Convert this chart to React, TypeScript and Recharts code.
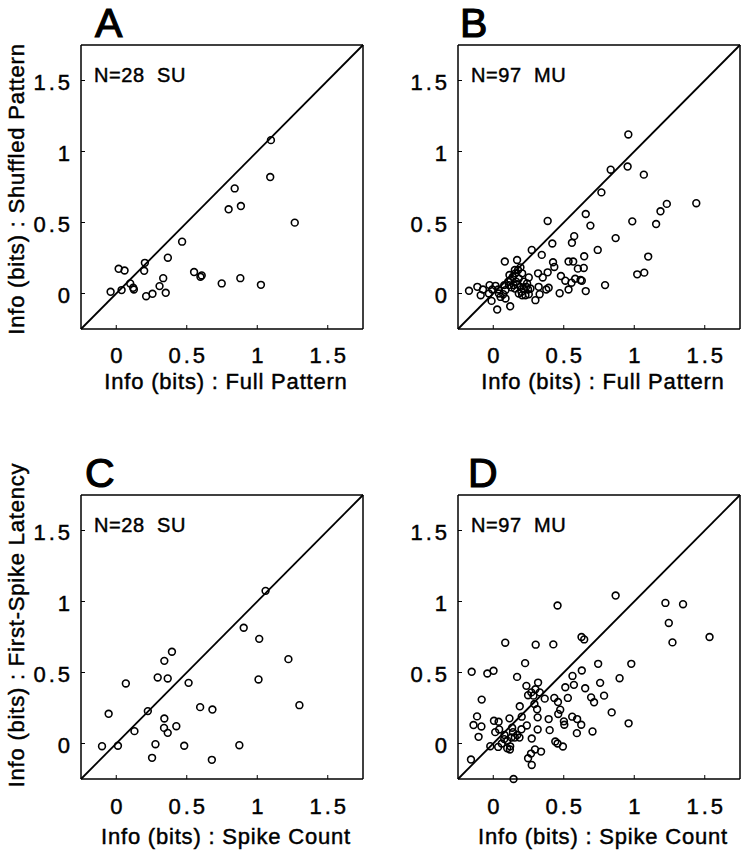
import React from 'react';
import { ScatterChart, Scatter, XAxis, YAxis, ReferenceLine, Label } from 'recharts';

const FONT = '"Liberation Sans", Arial, Helvetica, sans-serif';
const LIMITS: [number, number] = [-0.25, 1.75];
const TICKS = [0, 0.5, 1, 1.5];

// A: single units, full pattern vs shuffled pattern
const suFull = [1.097, 1.092, 0.84, 0.797, 0.884, 1.266, 0.467, 0.366, 0.203, 0.198, 0.017, 0.059, 0.099, 0.12,
  0.125, -0.04, 0.038, 0.212, 0.257, 0.307, 0.333, 0.351, 0.552, 0.597, 0.606, 0.748, 0.88, 1.026];
const suShuffled = [1.08, 0.82, 0.74, 0.593, 0.616, 0.499, 0.365, 0.252, 0.216, 0.16, 0.174, 0.162, 0.071, 0.04,
  0.028, 0.012, 0.024, -0.019, -0.002, 0.052, 0.108, 0.005, 0.151, 0.118, 0.127, 0.071, 0.108, 0.061];

// B: multi units, full pattern vs shuffled pattern
const muFull = [0.958, 0.953, 0.833, 1.068, 0.767, 1.44, 1.231, 1.186, 1.155, 0.986, 0.656, 0.689, 0.386, 0.868,
  0.574, 0.558, 0.419, 0.741, 0.273, 0.344, 0.645, 1.099, 0.082, 0.169, 0.424, 0.433, 0.534, 0.567, 0.6, 0.642,
  0.318, 0.386, 0.351, 0.252, 1.021, 1.071, 0.48, 0.511, 0.581, 0.619, 0.628, 0.555, 0.793, 0.393, 0.376, 0.322,
  0.534, 0.471, 0.656, 0.299, 0.329,
  -0.172, -0.113, -0.089, -0.073, -0.026, -0.031, -0.007, 0.016, 0.035, -0.012, 0.028, 0.052, 0.071, 0.087, 0.12,
  0.04, 0.087, 0.078, 0.106,
  0.122, 0.139, 0.158, 0.176, 0.193, 0.205, 0.181, 0.162, 0.146, 0.193, 0.216, 0.233, 0.247, 0.181, 0.205, 0.228,
  0.252, 0.153, 0.129, 0.111, 0.169, 0.216, 0.24, 0.264, 0.153, 0.115, 0.2];
const muShuffled = [1.12, 0.894, 0.872, 0.837, 0.712, 0.636, 0.631, 0.579, 0.489, 0.508, 0.56, 0.478, 0.511, 0.39,
  0.404, 0.357, 0.352, 0.307, 0.307, 0.272, 0.262, 0.26, 0.225, 0.236, 0.22, 0.187, 0.225, 0.225, 0.175, 0.18,
  0.142, 0.149, 0.113, 0.113, 0.135, 0.147, 0.123, 0.09, 0.104, 0.095, 0.09, 0.076, 0.059, 0.04, 0.028, 0.047,
  0.028, 0.002, 0.017, -0.047, -0.005,
  0.019, 0.047, -0.012, 0.028, 0.059, 0, 0.028, 0.054, 0.028, -0.052, -0.113, -0.024, -0.005, -0.035, -0.09,
  0, 0.024, 0.059, 0.083,
  0.095, 0.118, 0.142, 0.165, 0.184, 0.142, 0.106, 0.083, 0.059, 0.047, 0.035, 0.047, 0.028, 0, -0.012, -0.012,
  -0.005, 0.035, 0.043, 0.059, 0.066, 0.083, 0.071, 0.035, 0.165, 0.13, 0.012];

// C: single units, spike count vs first-spike latency
const suCount = [1.059, 0.904, 1.014, 0.395, 0.341, 1.221, 0.294, 0.365, 0.068, 0.513, 1.009, 1.299, 0.595, 0.682,
  -0.054, 0.224, 0.341, 0.339, 0.365, 0.426, 0.129, -0.101, 0.012, 0.278, 0.482, 0.873, 0.254, 0.678];
const suLatency = [1.075, 0.815, 0.737, 0.646, 0.582, 0.594, 0.465, 0.458, 0.423, 0.427, 0.451, 0.27, 0.256, 0.239,
  0.209, 0.228, 0.176, 0.11, 0.075, 0.122, 0.087, -0.019, -0.016, -0.005, -0.016, -0.012, -0.101, -0.115];

// D: multi units, spike count vs first-spike latency
const muCount = [0.868, 0.456, 1.221, 1.346, 1.245, 1.271, 1.534, 0.626, 0.645, 0.085, 0.301, 0.426, 0.226, 0.744,
  0.979, -0.153, -0.042, 0.002, 0.169, 0.628, 0.562, 0.896, 0.235, 0.318, 0.299, 0.572, 0.511, 0.652, 0.758, 0.786,
  0.694, 0.715, -0.082, 0.247, 0.285, 0.365, 0.433, 0.459, 0.529, 0.292, 0.188, 0.311, 0.475, 0.461, 0.84, 0.202,
  -0.115, -0.14, -0.084, -0.104, 0.005, 0.038, 0.115, 0.014, 0.042, 0.134, 0.315, 0.393, 0.501, 0.504, 0.56, 0.595,
  0.624, 0.96, 0.238, 0.315, 0.4, 0.593, 0.704, 0.186, 0.273, -0.021, 0.035, 0.078, 0.099, 0.118, 0.129, 0.153,
  0.44, 0.456, 0.494, 0.296, 0.339, 0.268, 0.247, 0.273, -0.158, 0.144,
  0.08, 0.1, 0.14, 0.17, 0.12, 0.06, 0.27, 0.33, 0.2];
const muLatency = [1.042, 0.972, 0.99, 0.981, 0.849, 0.712, 0.75, 0.75, 0.733, 0.71, 0.696, 0.698, 0.566, 0.561,
  0.561, 0.505, 0.493, 0.512, 0.469, 0.514, 0.476, 0.46, 0.406, 0.429, 0.382, 0.413, 0.396, 0.389, 0.427, 0.337,
  0.325, 0.29, 0.309, 0.34, 0.337, 0.316, 0.321, 0.292, 0.321, 0.278, 0.262, 0.241, 0.238, 0.208, 0.219, 0.189,
  0.191, 0.13, 0.12, 0.047, 0.16, 0.153, 0.177, 0.08, 0.099, 0.111, 0.184, 0.172, 0.156, 0.132, 0.189, 0.172,
  0.132, 0.142, 0.127, 0.099, 0.094, 0.073, 0.085, 0.042, 0.035, -0.019, -0.024, 0.031, -0.033, -0.042, 0.042, 0.042,
  0.014, 0, -0.021, -0.042, -0.057, -0.071, -0.104, -0.151, -0.113, -0.25,
  0.06, 0.02, 0.08, 0.06, -0.02, 0, 0.36, 0.36, 0.1];

const AXIS = { stroke: '#000', strokeWidth: 1.5 };
const TICKLINE = { stroke: '#000', strokeWidth: 1 };
const INK = { fill: '#000', stroke: '#000', strokeWidth: 0.45 };

const Ring = (props: any) => (
  <circle cx={props.cx} cy={props.cy} r={3.4} fill="none" stroke="#000" strokeWidth={1.6} />
);

const XTick = ({ x, y, payload, dy }: any) => (
  <text x={x + 1.5} y={y + dy} textAnchor="middle" fontSize={22} fontFamily={FONT} letterSpacing={3} {...INK}>
    {String(payload.value)}
  </text>
);

const YTick = ({ x, y, payload }: any) => (
  <text x={x - 12} y={y + 9} textAnchor="end" fontSize={22} fontFamily={FONT} letterSpacing={3} {...INK}>
    {String(payload.value)}
  </text>
);

type PanelProps = {
  xs: number[];
  ys: number[];
  letter: string;
  note: string;
  xTitle: string;
  yTitle?: string;
  left: number;
  top: number;
  width: number;
  marginRight: number;
  letterDx: number;
  yTitleDy: number;
  row: number;
};

const Panel = ({ xs, ys, letter, note, xTitle, yTitle, left, top, width, marginRight, letterDx, yTitleDy, row }: PanelProps) => {
  const data = xs.map((v, i) => ({ x: v, y: ys[i] }));
  const tickDy = row === 0 ? 38 : 39;
  const titleDy = row === 0 ? 60 : 65;
  return (
    <div style={{ position: 'absolute', left, top }}>
      <ScatterChart width={width} height={403} margin={{ top: 44, right: marginRight, bottom: 0, left: 0 }}>
        <XAxis type="number" dataKey="x" domain={LIMITS} ticks={TICKS} height={74}
          tickSize={-4} tickMargin={0} axisLine={AXIS} tickLine={TICKLINE}
          tick={(p: any) => <XTick {...p} dy={tickDy} />}>
          <Label content={({ viewBox }: any) => (
            <text x={viewBox.x + viewBox.width / 2 + 4} y={viewBox.y + titleDy} textAnchor="middle"
              fontSize={22} fontFamily={FONT} letterSpacing={0.8} {...INK}>{xTitle}</text>
          )} />
        </XAxis>
        <XAxis xAxisId="top" orientation="top" type="number" dataKey="x" domain={LIMITS} ticks={TICKS} height={1}
          tickSize={-4} axisLine={AXIS} tickLine={TICKLINE} tick={false}>
          <Label content={({ viewBox }: any) => (
            <g>
              <text x={viewBox.x + letterDx} y={viewBox.y - 7} fontSize={41} fontFamily={FONT} fill="#000"
                stroke="#000" strokeWidth={1.2}>{letter}</text>
              <text x={viewBox.x + 13} y={viewBox.y + 38} fontSize={20} fontFamily={FONT}
                letterSpacing={0.6} xmlSpace="preserve" {...INK}>{note}</text>
            </g>
          )} />
        </XAxis>
        <YAxis type="number" dataKey="y" domain={LIMITS} ticks={TICKS} width={81}
          tickSize={-4} tickMargin={0} axisLine={AXIS} tickLine={TICKLINE} tick={(p: any) => <YTick {...p} />}>
          {yTitle ? (
            <Label content={({ viewBox }: any) => {
              const cx = 24;
              const cy = viewBox.y + viewBox.height / 2 + yTitleDy;
              return (
                <text x={cx} y={cy} transform={`rotate(-90, ${cx}, ${cy})`} textAnchor="middle"
                  fontSize={22} fontFamily={FONT} letterSpacing={0.8} {...INK}>{yTitle}</text>
              );
            }} />
          ) : null}
        </YAxis>
        <YAxis yAxisId="right" orientation="right" type="number" dataKey="y" domain={LIMITS} ticks={TICKS} width={1}
          tickSize={-4} axisLine={AXIS} tickLine={TICKLINE} tick={false} />
        <ReferenceLine segment={[{ x: LIMITS[0], y: LIMITS[0] }, { x: LIMITS[1], y: LIMITS[1] }]}
          stroke="#000" strokeWidth={1.8} ifOverflow="visible" />
        <Scatter data={data} shape={Ring} isAnimationActive={false} />
      </ScatterChart>
    </div>
  );
};

export default function App() {
  return (
    <div style={{ position: 'absolute', left: 0, top: 0, width: 744, height: 853, background: '#fff', overflow: 'hidden' }}>
      <Panel xs={suFull} ys={suShuffled} letter="A" note="N=28  SU" xTitle="Info (bits) : Full Pattern"
        yTitle="Info (bits) : Shuffled Pattern" left={0} top={0} width={372} marginRight={8} letterDx={14}
        yTitleDy={2} row={0} />
      <Panel xs={muFull} ys={muShuffled} letter="B" note="N=97  MU" xTitle="Info (bits) : Full Pattern"
        left={377} top={0} width={367} marginRight={3} letterDx={2} yTitleDy={0} row={0} />
      <Panel xs={suCount} ys={suLatency} letter="C" note="N=28  SU" xTitle="Info (bits) : Spike Count"
        yTitle="Info (bits) : First-Spike Latency" left={0} top={450} width={372} marginRight={8} letterDx={4}
        yTitleDy={-12} row={1} />
      <Panel xs={muCount} ys={muLatency} letter="D" note="N=97  MU" xTitle="Info (bits) : Spike Count"
        left={377} top={450} width={367} marginRight={3} letterDx={10} yTitleDy={0} row={1} />
    </div>
  );
}
